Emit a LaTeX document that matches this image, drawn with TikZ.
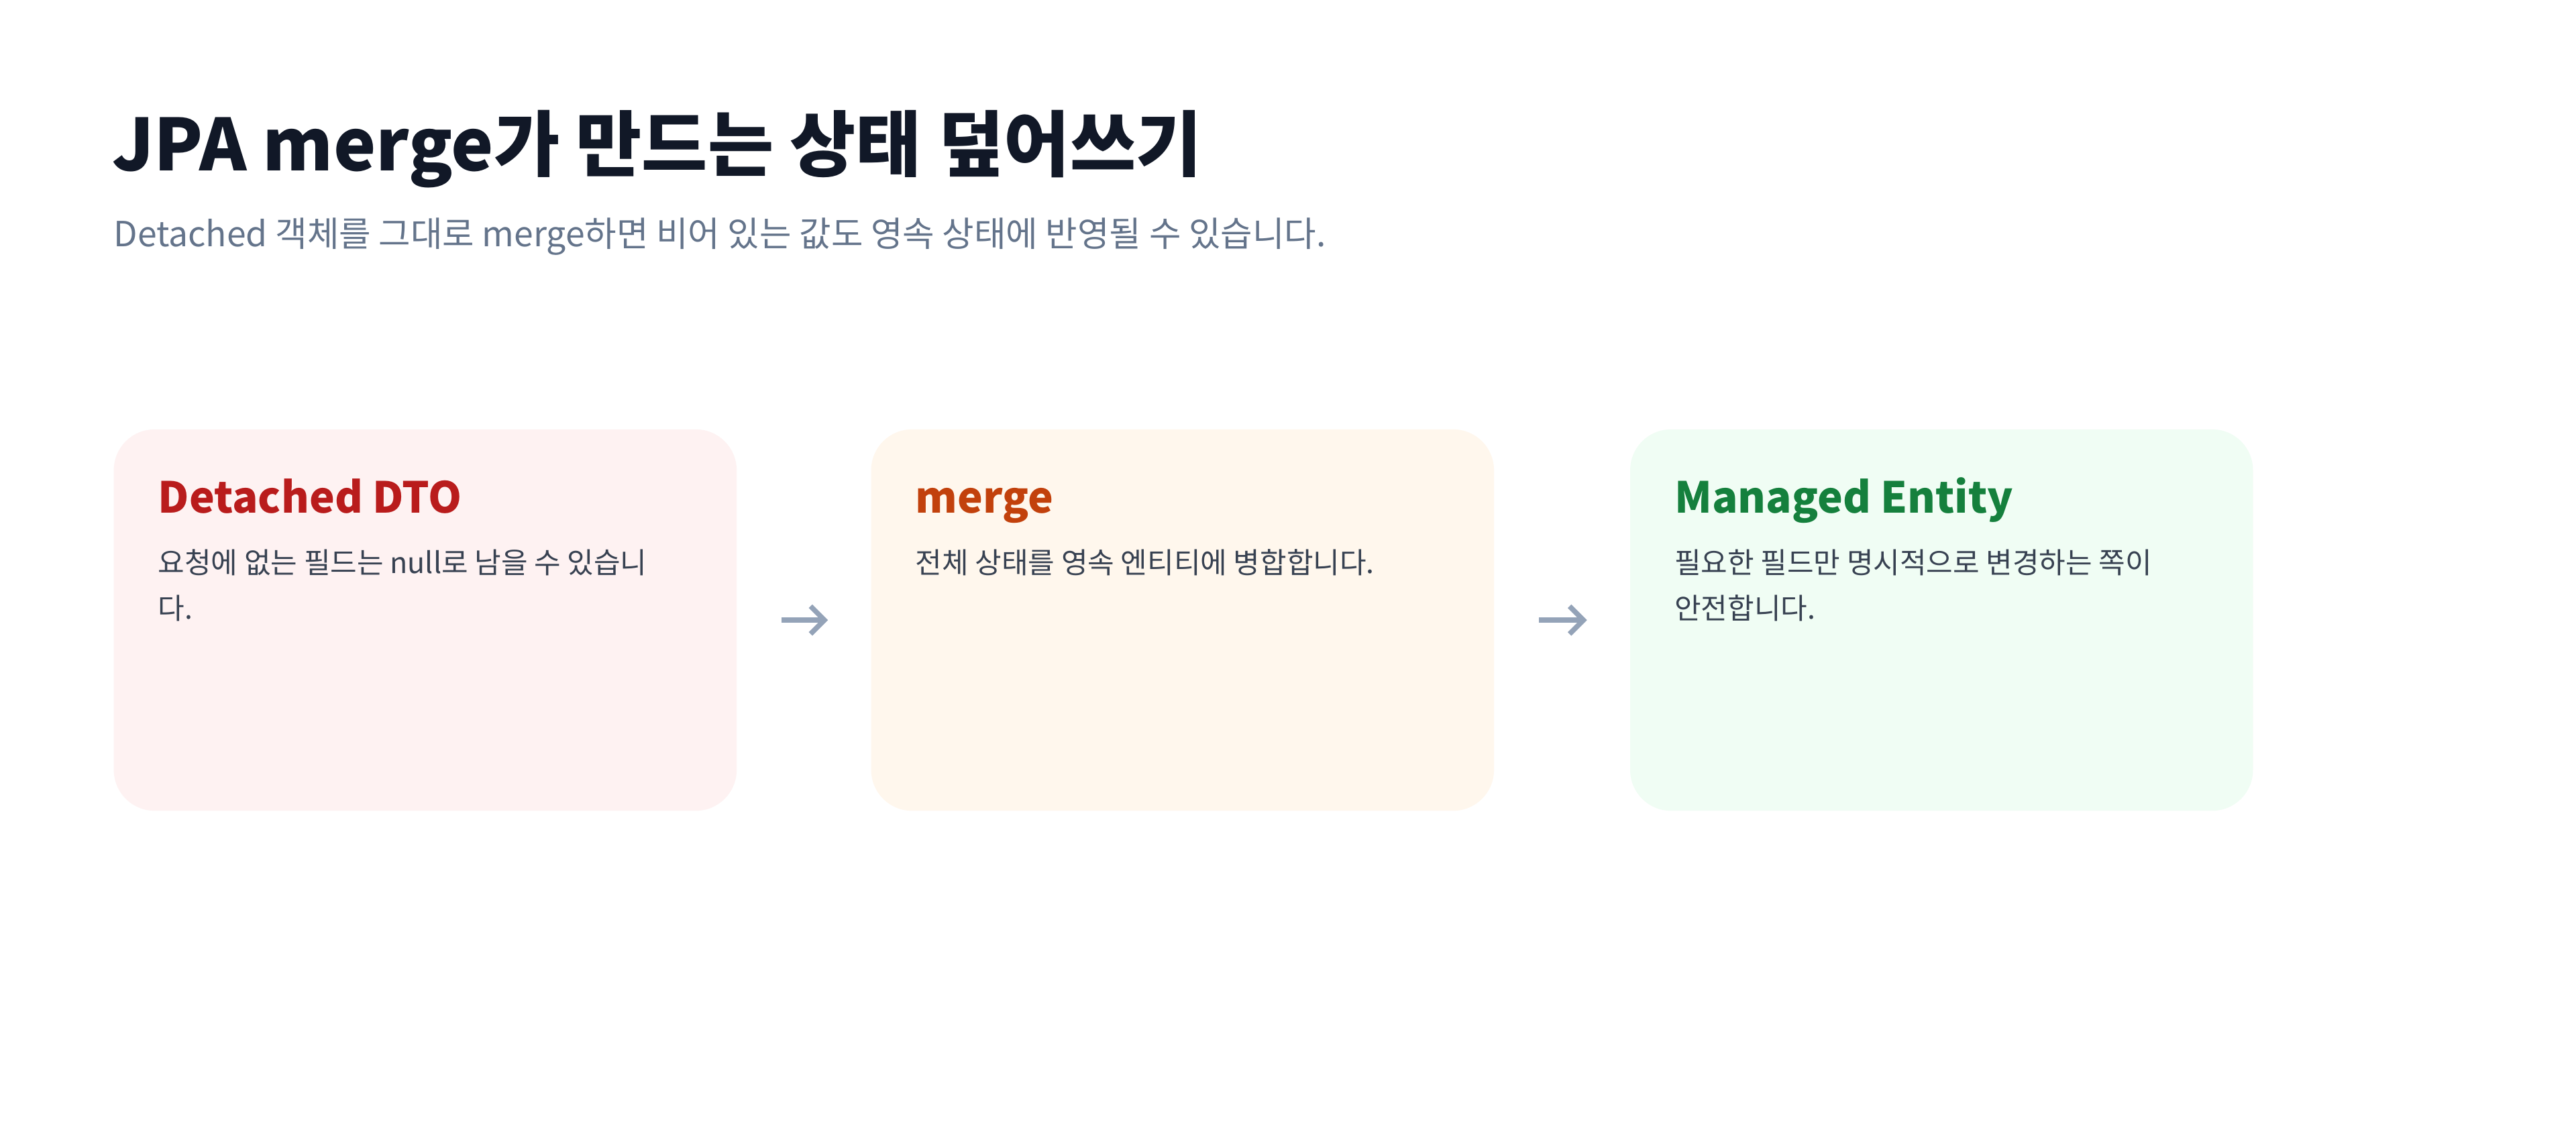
\documentclass[tikz,border=0pt]{standalone}
\usepackage{fontspec}
\setmainfont{Noto Sans CJK KR}
\usetikzlibrary{positioning}
\definecolor{inkdark}{HTML}{111827}
\definecolor{inksub}{HTML}{64748B}
\definecolor{inkbody}{HTML}{374151}
\definecolor{arrowgray}{HTML}{94A3B8}
\definecolor{redfill}{HTML}{FEF2F2}
\definecolor{redtext}{HTML}{B91C1C}
\definecolor{orangefill}{HTML}{FFF7ED}
\definecolor{orangetext}{HTML}{C2410C}
\definecolor{greenfill}{HTML}{F0FDF4}
\definecolor{greentext}{HTML}{15803D}
\tikzset{
  card/.style={rectangle, rounded corners=0.62cm, minimum width=9.475cm,
    minimum height=5.8cm, anchor=north west, inner sep=0pt},
  cardtitle/.style={anchor=base west, inner sep=0pt, font=\fontsize{18.5pt}{22pt}\selectfont\bfseries},
  cardbody/.style={anchor=north west, inner sep=0pt, align=left, text=inkbody,
    font=\fontsize{12.5pt}{19.8pt}\selectfont},
  flow/.style={draw=arrowgray, line width=2.2pt, ->, >={Straight Barb[length=6pt,width=12pt]},
    shorten <=0.68cm, shorten >=0.65cm}
}
\usetikzlibrary{arrows.meta}
\begin{document}
\begin{tikzpicture}[x=0.025cm,y=-0.025cm]
  \useasboundingbox[fill=white] (0,0) rectangle (1568,686);
  % heading
  \node[anchor=base west, inner sep=0pt, text=inkdark, font=\fontsize{31pt}{36pt}\selectfont\bfseries]
    (title) at (68,104) {JPA merge가 만드는 상태 덮어쓰기};
  \node[anchor=base west, inner sep=0pt, text=inksub, font=\fontsize{15pt}{18pt}\selectfont]
    (subtitle) at (69,150) {Detached 객체를 그대로 merge하면 비어 있는 값도 영속 상태에 반영될 수 있습니다.};
  % cards
  \node[card, fill=redfill] (dto) at (69,261) {};
  \node[card, fill=orangefill] (mrg) at (530,261) {};
  \node[card, fill=greenfill] (ent) at (992,261) {};
  \node[cardtitle, text=redtext] (dtotitle) at (96,312) {Detached DTO};
  \node[cardtitle, text=orangetext] (mrgtitle) at (557,312) {merge};
  \node[cardtitle, text=greentext] (enttitle) at (1019,312) {Managed Entity};
  \node[cardbody] (dtobody) at (96,334) {요청에 없는 필드는 null로 남을 수 있습니\\다.};
  \node[cardbody] (mrgbody) at (557,334) {전체 상태를 영속 엔티티에 병합합니다.};
  \node[cardbody] (entbody) at (1019,334) {필요한 필드만 명시적으로 변경하는 쪽이\\안전합니다.};
  % arrows
  \draw[flow] (dto.east) -- (mrg.west);
  \draw[flow] (mrg.east) -- (ent.west);
\end{tikzpicture}
\end{document}
